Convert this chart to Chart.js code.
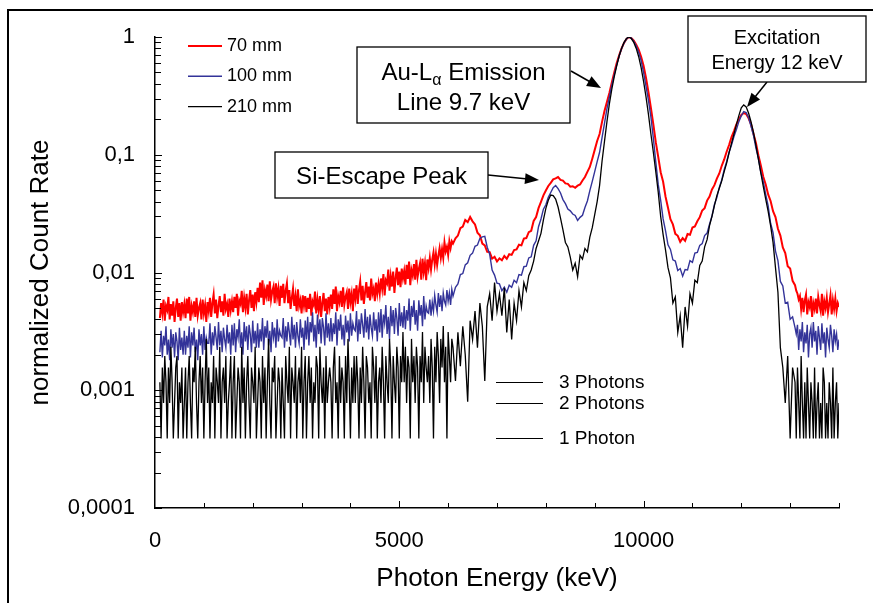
<!DOCTYPE html>
<html><head><meta charset="utf-8">
<script src="https://cdn.jsdelivr.net/npm/chart.js@4/dist/chart.umd.min.js"></script>
<style>html,body{margin:0;padding:0;background:#fff;}canvas{display:block;}</style>
</head><body>
<canvas id="c" width="873" height="603"></canvas>
<script>
// ---------- DATA ----------
const energies = [
100,125,150,175,200,225,250,275,300,325,350,375,400,425,450,475,500,525,550,575,
600,625,650,675,700,725,750,775,800,825,850,875,900,925,950,975,1000,1025,1050,1075,
1100,1125,1150,1175,1200,1225,1250,1275,1300,1325,1350,1375,1400,1425,1450,1475,1500,1525,1550,1575,
1600,1625,1650,1675,1700,1725,1750,1775,1800,1825,1850,1875,1900,1925,1950,1975,2000,2025,2050,2075,
2100,2125,2150,2175,2200,2225,2250,2275,2300,2325,2350,2375,2400,2425,2450,2475,2500,2525,2550,2575,
2600,2625,2650,2675,2700,2725,2750,2775,2800,2825,2850,2875,2900,2925,2950,2975,3000,3025,3050,3075,
3100,3125,3150,3175,3200,3225,3250,3275,3300,3325,3350,3375,3400,3425,3450,3475,3500,3525,3550,3575,
3600,3625,3650,3675,3700,3725,3750,3775,3800,3825,3850,3875,3900,3925,3950,3975,4000,4025,4050,4075,
4100,4125,4150,4175,4200,4225,4250,4275,4300,4325,4350,4375,4400,4425,4450,4475,4500,4525,4550,4575,
4600,4625,4650,4675,4700,4725,4750,4775,4800,4825,4850,4875,4900,4925,4950,4975,5000,5025,5050,5075,
5100,5125,5150,5175,5200,5225,5250,5275,5300,5325,5350,5375,5400,5425,5450,5475,5500,5525,5550,5575,
5600,5625,5650,5675,5700,5725,5750,5775,5800,5825,5850,5875,5900,5925,5950,5975,6000,6025,6050,6075,
6100,6150,6200,6250,6300,6350,6400,6450,6500,6550,6600,6650,6700,6750,6800,6850,6900,6950,7000,7050,
7100,7150,7200,7250,7300,7350,7400,7450,7500,7550,7600,7650,7700,7750,7800,7850,7900,7950,8000,8050,
8100,8150,8200,8250,8300,8350,8400,8450,8500,8550,8600,8650,8700,8750,8800,8850,8900,8950,9000,9050,
9100,9150,9200,9250,9300,9350,9400,9450,9500,9550,9600,9650,9700,9750,9800,9850,9900,9950,10000,10050,
10100,10150,10200,10250,10300,10350,10400,10450,10500,10550,10600,10650,10700,10750,10800,10850,10900,10950,11000,11050,
11100,11150,11200,11250,11300,11350,11400,11450,11500,11550,11600,11650,11700,11750,11800,11850,11900,11950,12000,12050,
12100,12150,12200,12250,12300,12350,12400,12450,12500,12550,12600,12650,12700,12750,12800,12850,12900,12950,13000,13050,
13100,13125,13150,13175,13200,13225,13250,13275,13300,13325,13350,13375,13400,13425,13450,13475,13500,13525,13550,13575,
13600,13625,13650,13675,13700,13725,13750,13775,13800,13825,13850,13875,13900,13925,13950,13975,14000
];

const rate70mm = [
0.0041,0.0055,0.0045,0.0059,0.0039,0.0052,0.0048,0.0062,0.0040,0.0054,0.0043,0.0057,0.0038,0.0050,0.0060,0.0042,0.0055,0.0039,0.0056,0.0046,
0.0054,0.0041,0.0060,0.0045,0.0062,0.0039,0.0052,0.0046,0.0057,0.0042,0.0061,0.0043,0.0050,0.0055,0.0040,0.0059,0.0045,0.0053,0.0038,0.0056,
0.0047,0.0061,0.0042,0.0055,0.0065,0.0045,0.0059,0.0041,0.0052,0.0063,0.0046,0.0057,0.0043,0.0066,0.0049,0.0054,0.0042,0.0060,0.0048,0.0057,
0.0046,0.0062,0.0050,0.0066,0.0043,0.0058,0.0054,0.0070,0.0046,0.0061,0.0050,0.0066,0.0044,0.0058,0.0071,0.0050,0.0065,0.0047,0.0068,0.0056,
0.0074,0.0056,0.0082,0.0061,0.0086,0.0053,0.0071,0.0063,0.0079,0.0057,0.0084,0.0059,0.0069,0.0076,0.0055,0.0081,0.0062,0.0073,0.0052,0.0077,
0.0061,0.0080,0.0055,0.0070,0.0081,0.0055,0.0071,0.0049,0.0061,0.0073,0.0052,0.0063,0.0047,0.0072,0.0052,0.0058,0.0045,0.0064,0.0052,0.0063,
0.0046,0.0061,0.0049,0.0066,0.0043,0.0057,0.0053,0.0069,0.0045,0.0059,0.0048,0.0063,0.0042,0.0055,0.0067,0.0047,0.0060,0.0044,0.0062,0.0051,
0.0065,0.0049,0.0072,0.0054,0.0076,0.0047,0.0063,0.0056,0.0070,0.0051,0.0075,0.0053,0.0062,0.0068,0.0049,0.0073,0.0056,0.0066,0.0047,0.0073,
0.0060,0.0078,0.0054,0.0071,0.0084,0.0058,0.0077,0.0054,0.0068,0.0083,0.0061,0.0076,0.0058,0.0089,0.0066,0.0073,0.0057,0.0082,0.0066,0.0080,
0.0066,0.0089,0.0073,0.0097,0.0064,0.0086,0.0081,0.0106,0.0070,0.0093,0.0076,0.0102,0.0067,0.0090,0.0110,0.0078,0.0102,0.0075,0.0108,0.0089,
0.0103,0.0079,0.0116,0.0088,0.0124,0.0078,0.0105,0.0094,0.0118,0.0087,0.0128,0.0092,0.0107,0.0120,0.0087,0.0131,0.0101,0.0120,0.0086,0.0129,
0.0109,0.0133,0.0106,0.0129,0.0148,0.0117,0.0144,0.0116,0.0139,0.0161,0.0133,0.0158,0.0133,0.0180,0.0151,0.0165,0.0141,0.0184,0.0161,0.0184,
0.0176,0.0195,0.0206,0.0238,0.0245,0.0279,0.0268,0.0296,0.0272,0.0256,0.0218,0.0207,0.0176,0.0170,0.0150,0.0149,0.0131,0.0136,0.0124,0.0132,
0.0127,0.0138,0.0131,0.0143,0.0141,0.0155,0.0157,0.0172,0.0170,0.0194,0.0196,0.0220,0.0226,0.0274,0.0296,0.0352,0.0398,0.0452,0.0497,0.0543,
0.0577,0.0618,0.0629,0.0647,0.0612,0.0604,0.0571,0.0566,0.0535,0.0540,0.0524,0.0546,0.0559,0.0604,0.0648,0.0716,0.0788,0.0925,0.110,0.131,
0.150,0.190,0.235,0.280,0.335,0.410,0.500,0.600,0.700,0.800,0.890,0.960,1.000,0.980,0.930,0.860,0.780,0.680,0.570,0.450,
0.340,0.250,0.181,0.128,0.096,0.071,0.059,0.044,0.0355,0.0284,0.0256,0.0213,0.0205,0.0182,0.0196,0.0186,0.0212,0.0209,0.0241,0.0246,
0.0272,0.0295,0.0336,0.0352,0.0408,0.0442,0.0507,0.0552,0.0627,0.0693,0.0806,0.0912,0.106,0.121,0.141,0.159,0.181,0.199,0.218,0.226,
0.222,0.204,0.181,0.150,0.126,0.099,0.081,0.065,0.056,0.046,0.0405,0.0332,0.0296,0.0235,0.0206,0.0163,0.0146,0.0113,0.0108,0.0085,
0.0078,0.0070,0.0066,0.0059,0.0063,0.0049,0.0061,0.0046,0.0058,0.0065,0.0044,0.0056,0.0051,0.0063,0.0042,0.0055,0.0049,0.0060,0.0045,0.0062,
0.0053,0.0047,0.0066,0.0043,0.0057,0.0050,0.0061,0.0046,0.0054,0.0064,0.0044,0.0058,0.0049,0.0060,0.0047,0.0055,0.0051
];

const rate100mm = [
0.0021,0.0032,0.0019,0.0029,0.0024,0.0035,0.0020,0.0027,0.0018,0.0033,0.0023,0.0030,0.0019,0.0031,0.0026,0.0018,0.0034,0.0022,0.0028,0.0020,
0.0032,0.0020,0.0029,0.0023,0.0035,0.0019,0.0031,0.0024,0.0034,0.0021,0.0027,0.0018,0.0033,0.0024,0.0030,0.0020,0.0035,0.0022,0.0028,0.0025,
0.0025,0.0037,0.0020,0.0031,0.0024,0.0035,0.0028,0.0022,0.0038,0.0024,0.0032,0.0021,0.0034,0.0027,0.0023,0.0036,0.0025,0.0031,0.0020,0.0036,
0.0024,0.0037,0.0021,0.0033,0.0028,0.0040,0.0023,0.0031,0.0020,0.0038,0.0026,0.0035,0.0022,0.0036,0.0030,0.0021,0.0039,0.0025,0.0032,0.0023,
0.0037,0.0023,0.0033,0.0026,0.0041,0.0022,0.0035,0.0028,0.0039,0.0024,0.0032,0.0021,0.0038,0.0028,0.0034,0.0023,0.0040,0.0026,0.0032,0.0029,
0.0028,0.0041,0.0023,0.0035,0.0026,0.0038,0.0031,0.0024,0.0042,0.0027,0.0036,0.0023,0.0038,0.0029,0.0025,0.0040,0.0028,0.0034,0.0022,0.0039,
0.0027,0.0042,0.0024,0.0038,0.0031,0.0046,0.0026,0.0036,0.0023,0.0044,0.0030,0.0040,0.0025,0.0041,0.0034,0.0024,0.0045,0.0028,0.0037,0.0026,
0.0041,0.0026,0.0037,0.0030,0.0046,0.0024,0.0040,0.0032,0.0044,0.0027,0.0036,0.0024,0.0043,0.0031,0.0039,0.0026,0.0045,0.0029,0.0037,0.0033,
0.0032,0.0047,0.0026,0.0040,0.0030,0.0045,0.0036,0.0028,0.0049,0.0031,0.0042,0.0027,0.0044,0.0034,0.0029,0.0046,0.0032,0.0040,0.0026,0.0046,
0.0031,0.0049,0.0028,0.0044,0.0037,0.0053,0.0030,0.0042,0.0027,0.0052,0.0035,0.0048,0.0030,0.0050,0.0041,0.0029,0.0055,0.0035,0.0046,0.0034,
0.0052,0.0033,0.0048,0.0039,0.0060,0.0032,0.0052,0.0042,0.0058,0.0036,0.0048,0.0032,0.0058,0.0043,0.0053,0.0035,0.0063,0.0040,0.0052,0.0046,
0.0045,0.0059,0.0043,0.0056,0.0047,0.0064,0.0053,0.0046,0.0067,0.0051,0.0064,0.0047,0.0067,0.0057,0.0053,0.0071,0.0057,0.0067,0.0053,0.0072,
0.0063,0.0075,0.0080,0.0096,0.0098,0.0116,0.0121,0.0140,0.0146,0.0167,0.0171,0.0195,0.0201,0.0203,0.0164,0.0143,0.0105,0.0095,0.0081,0.0080,
0.0070,0.0075,0.0068,0.0078,0.0075,0.0086,0.0082,0.0096,0.0095,0.0112,0.0113,0.0133,0.0136,0.0170,0.0186,0.0245,0.0285,0.0345,0.0376,0.0435,
0.0478,0.0525,0.0548,0.0515,0.0474,0.0416,0.0384,0.0346,0.0334,0.0314,0.0305,0.0277,0.0294,0.0306,0.0356,0.0405,0.0496,0.0594,0.0718,0.0875,
0.105,0.140,0.185,0.245,0.310,0.390,0.480,0.580,0.690,0.800,0.890,0.960,1.000,0.980,0.920,0.840,0.740,0.630,0.500,0.380,
0.290,0.210,0.138,0.087,0.056,0.041,0.0285,0.0226,0.0172,0.0157,0.0128,0.0125,0.0104,0.0108,0.0093,0.0106,0.0105,0.0126,0.0122,0.0146,
0.0148,0.0170,0.0176,0.0206,0.0216,0.0257,0.0302,0.0378,0.0432,0.0528,0.0612,0.0748,0.0872,0.105,0.121,0.143,0.164,0.191,0.214,0.232,
0.228,0.206,0.174,0.146,0.114,0.093,0.071,0.059,0.046,0.0368,0.0262,0.0218,0.0152,0.0126,0.0084,0.0077,0.0055,0.0056,0.0040,0.0042,
0.0034,0.0030,0.0036,0.0022,0.0033,0.0026,0.0038,0.0021,0.0031,0.0025,0.0036,0.0019,0.0030,0.0034,0.0023,0.0038,0.0026,0.0032,0.0020,0.0035,
0.0028,0.0022,0.0037,0.0025,0.0031,0.0019,0.0034,0.0027,0.0023,0.0036,0.0029,0.0021,0.0033,0.0026,0.0030,0.0022,0.0027
];

const rate210mm = [
0.00117,0.00039,0.00156,0.00078,0.00195,0.00117,0.00039,0.00156,0.00078,0.00234,0.00117,0.00039,0.00078,0.00156,0.00195,0.00039,0.00117,0.00078,0.00156,0.00039,
0.00078,0.00156,0.00039,0.00117,0.00195,0.00078,0.00039,0.00156,0.00117,0.00234,0.00078,0.00039,0.00117,0.00195,0.00078,0.00156,0.00039,0.00117,0.00273,0.00078,
0.00156,0.00039,0.00117,0.00078,0.00195,0.00039,0.00156,0.00117,0.00078,0.00234,0.00039,0.00117,0.00156,0.00078,0.00195,0.00039,0.00078,0.00117,0.00195,0.00039,
0.00117,0.00195,0.00039,0.00078,0.00156,0.00117,0.00039,0.00234,0.00078,0.00156,0.00039,0.00117,0.00195,0.00078,0.00039,0.00156,0.00117,0.00078,0.00234,0.00039,
0.00078,0.00156,0.00117,0.00039,0.00195,0.00078,0.00156,0.00039,0.00117,0.00273,0.00078,0.00039,0.00156,0.00117,0.00195,0.00039,0.00078,0.00156,0.00117,0.00039,
0.00156,0.00078,0.00039,0.00195,0.00117,0.00078,0.00234,0.00039,0.00156,0.00117,0.00078,0.00195,0.00039,0.00117,0.00156,0.00078,0.00234,0.00039,0.00117,0.00195,
0.00039,0.00117,0.00195,0.00078,0.00156,0.00039,0.00117,0.00078,0.00195,0.00156,0.00039,0.00234,0.00117,0.00078,0.00156,0.00039,0.00195,0.00078,0.00117,0.00156,
0.00117,0.00039,0.00156,0.00234,0.00078,0.00117,0.00039,0.00195,0.00078,0.00156,0.00117,0.00039,0.00195,0.00078,0.00273,0.00117,0.00039,0.00156,0.00078,0.00195,
0.00078,0.00195,0.00117,0.00039,0.00156,0.00078,0.00234,0.00117,0.00039,0.00195,0.00156,0.00078,0.00117,0.00039,0.00234,0.00156,0.00078,0.00195,0.00039,0.00117,
0.00156,0.00078,0.00234,0.00117,0.00039,0.00195,0.00117,0.00078,0.00273,0.00156,0.00039,0.00195,0.00117,0.00078,0.00234,0.00156,0.00039,0.00195,0.00117,0.00312,
0.00117,0.00234,0.00078,0.00195,0.00156,0.00039,0.00273,0.00117,0.00195,0.00078,0.00234,0.00156,0.00039,0.00195,0.00117,0.00312,0.00078,0.00234,0.00156,0.00117,
0.00195,0.00078,0.00273,0.00156,0.00039,0.00234,0.00117,0.00312,0.00195,0.00078,0.00273,0.00156,0.00351,0.00117,0.00234,0.00039,0.00312,0.00195,0.00117,0.00273,
0.0023,0.0012,0.0031,0.0016,0.0035,0.0020,0.0008,0.0039,0.0027,0.0047,0.0023,0.0055,0.0035,0.0012,0.0051,0.0066,0.0039,0.0082,0.0047,0.0066,
0.0043,0.0074,0.0031,0.0059,0.0027,0.0055,0.0039,0.0070,0.0051,0.0082,0.0070,0.0094,0.0105,0.0125,0.0160,0.0185,0.0215,0.0280,0.0350,0.0410,
0.0455,0.0450,0.0420,0.0360,0.0290,0.0230,0.0180,0.0165,0.0135,0.0105,0.0120,0.0092,0.0140,0.0130,0.0160,0.0150,0.0200,0.0240,0.0310,0.0400,
0.055,0.088,0.130,0.190,0.270,0.360,0.460,0.570,0.690,0.800,0.900,0.970,1.000,0.970,0.900,0.800,0.680,0.550,0.420,0.310,
0.220,0.150,0.105,0.072,0.048,0.030,0.021,0.0155,0.011,0.0090,0.0055,0.0062,0.0031,0.0043,0.0023,0.0051,0.0035,0.0066,0.0055,0.0086,
0.0082,0.0115,0.0125,0.0165,0.019,0.025,0.030,0.037,0.045,0.052,0.060,0.072,0.085,0.104,0.125,0.150,0.180,0.215,0.250,0.265,
0.255,0.225,0.190,0.155,0.120,0.092,0.070,0.054,0.042,0.033,0.025,0.018,0.011,0.0068,0.0023,0.00156,0.00078,0.00195,0.00039,0.00156,
0.00117,0.00039,0.00156,0.00078,0.00039,0.00195,0.00078,0.00039,0.00117,0.00039,0.00156,0.00078,0.00039,0.00117,0.00078,0.00039,0.00156,0.00039,0.00078,0.00117,
0.00039,0.00078,0.00039,0.00156,0.00117,0.00039,0.00078,0.00039,0.00117,0.00078,0.00039,0.00156,0.00039,0.00078,0.00117,0.00039,0.00078
];

const seriesNames = ['70 mm', '100 mm', '210 mm'];
const yTickValues = [0.0001, 0.001, 0.01, 0.1, 1];
const yTickLabels = ['0,0001', '0,001', '0,01', '0,1', '1'];
const xTickValues = [0, 5000, 10000];
const xTickLabels = ['0', '5000', '10000'];
const photonLabels = ['3 Photons', '2 Photons', '1 Photon'];
const photonLevels = [0.00117, 0.00078, 0.00039];

// ---------- STYLE ----------
const FONT = '"Liberation Sans", Arial, Helvetica, sans-serif';
const seriesColors = ['#ff0000', '#333399', '#000000'];
const seriesWidths = [2, 1.4, 1.3];
Chart.defaults.font.family = FONT;
Chart.defaults.color = '#000';

const toXY = vals => vals.map((v, i) => ({x: energies[i], y: v}));

function drawArrow(ctx, x0, y0, x1, y1) {
  const ang = Math.atan2(y1 - y0, x1 - x0);
  const L = 14, H = 5.5;
  ctx.beginPath();
  ctx.moveTo(x0, y0);
  ctx.lineTo(x1 - Math.cos(ang) * L * 0.8, y1 - Math.sin(ang) * L * 0.8);
  ctx.lineWidth = 1.5; ctx.strokeStyle = '#000'; ctx.stroke();
  ctx.beginPath();
  ctx.moveTo(x1, y1);
  ctx.lineTo(x1 - Math.cos(ang) * L - Math.sin(ang) * H, y1 - Math.sin(ang) * L + Math.cos(ang) * H);
  ctx.lineTo(x1 - Math.cos(ang) * L + Math.sin(ang) * H, y1 - Math.sin(ang) * L - Math.cos(ang) * H);
  ctx.closePath(); ctx.fillStyle = '#000'; ctx.fill();
}
function drawBox(ctx, x0, y0, x1, y1) {
  ctx.fillStyle = '#fff'; ctx.fillRect(x0, y0, x1 - x0, y1 - y0);
  ctx.lineWidth = 1.3; ctx.strokeStyle = '#000'; ctx.strokeRect(x0, y0, x1 - x0, y1 - y0);
}

const decor = {
  id: 'decor',
  afterDraw(chart) {
    const {ctx, chartArea: a, scales: {x, y}} = chart;
    ctx.save();
    // outer frame
    ctx.strokeStyle = '#000'; ctx.lineWidth = 2;
    ctx.beginPath(); ctx.moveTo(8, 603); ctx.lineTo(8, 10); ctx.lineTo(873, 10); ctx.stroke();
    // inward tick marks
    ctx.lineWidth = 1;
    for (let d = -4; d <= 0; d++) {
      for (let m = 1; m <= 9; m++) {
        const v = m * Math.pow(10, d);
        if (v > 1.000001) break;
        const py = Math.round(y.getPixelForValue(v)) + 0.5;
        ctx.beginPath(); ctx.moveTo(a.left, py); ctx.lineTo(a.left + (m === 1 ? 7 : 6), py); ctx.stroke();
      }
    }
    for (let e = 1000; e <= 14000; e += 1000) {
      const px = Math.round(x.getPixelForValue(e)) + 0.5;
      ctx.beginPath(); ctx.moveTo(px, a.bottom); ctx.lineTo(px, a.bottom - (e % 5000 === 0 ? 7 : 5)); ctx.stroke();
    }
    // series legend
    ctx.textBaseline = 'middle'; ctx.textAlign = 'left';
    ctx.font = '18px ' + FONT;
    seriesNames.forEach((n, i) => {
      const ly = 46 + i * 30.3;
      ctx.strokeStyle = seriesColors[i]; ctx.lineWidth = seriesWidths[i];
      ctx.beginPath(); ctx.moveTo(188, ly); ctx.lineTo(222, ly); ctx.stroke();
      ctx.fillStyle = '#000'; ctx.fillText(n, 227, ly);
    });
    // photon level legend
    ctx.font = '19px ' + FONT;
    photonLabels.forEach((n, i) => {
      const ly = Math.round(y.getPixelForValue(photonLevels[i])) + 0.5;
      ctx.strokeStyle = '#000'; ctx.lineWidth = 1;
      ctx.beginPath(); ctx.moveTo(496, ly); ctx.lineTo(543, ly); ctx.stroke();
      ctx.fillStyle = '#000'; ctx.fillText(n, 559, ly);
    });
    // annotation: Au-L alpha
    drawArrow(ctx, 571, 71, 601, 88);
    drawBox(ctx, 357, 47, 570, 123);
    ctx.fillStyle = '#000'; ctx.textBaseline = 'alphabetic'; ctx.textAlign = 'left';
    ctx.font = '24px ' + FONT; const w1 = ctx.measureText('Au-L').width; const w3 = ctx.measureText(' Emission').width;
    ctx.font = '16px ' + FONT; const w2 = ctx.measureText('\u03B1').width;
    let sx = 463.5 - (w1 + w2 + w3) / 2;
    ctx.font = '24px ' + FONT; ctx.fillText('Au-L', sx, 79.5);
    ctx.font = '16px ' + FONT; ctx.fillText('\u03B1', sx + w1, 85);
    ctx.font = '24px ' + FONT; ctx.fillText(' Emission', sx + w1 + w2, 79.5);
    ctx.textAlign = 'center';
    ctx.fillText('Line 9.7 keV', 463.5, 109.5);
    // annotation: Si escape
    drawArrow(ctx, 488, 175, 539, 180);
    drawBox(ctx, 275, 152, 488, 198);
    ctx.fillStyle = '#000'; ctx.font = '24px ' + FONT;
    ctx.fillText('Si-Escape Peak', 381.5, 184);
    // annotation: excitation
    drawArrow(ctx, 767, 82, 747, 107);
    drawBox(ctx, 688, 16, 866, 82);
    ctx.fillStyle = '#000'; ctx.font = '20px ' + FONT;
    ctx.fillText('Excitation', 777, 44);
    ctx.fillText('Energy 12 keV', 777, 68.5);
    ctx.restore();
  }
};

new Chart(document.getElementById('c'), {
  type: 'line',
  data: {
    datasets: [
      {label: seriesNames[0], data: toXY(rate70mm), borderColor: seriesColors[0], borderWidth: seriesWidths[0], order: 3},
      {label: seriesNames[1], data: toXY(rate100mm), borderColor: seriesColors[1], borderWidth: seriesWidths[1], order: 2},
      {label: seriesNames[2], data: toXY(rate210mm), borderColor: seriesColors[2], borderWidth: seriesWidths[2], order: 1}
    ]
  },
  options: {
    responsive: false, animation: false, devicePixelRatio: 1,
    elements: {point: {radius: 0, hoverRadius: 0}, line: {tension: 0, fill: false}},
    layout: {padding: {left: 0, top: 37, right: 34, bottom: 0}},
    plugins: {legend: {display: false}, tooltip: {enabled: false}},
    events: [],
    scales: {
      x: {
        type: 'linear', min: 0, max: 14000,
        afterBuildTicks: s => { s.ticks = xTickValues.map(v => ({value: v})); },
        afterFit: s => { s.height = 95; },
        ticks: {font: {size: 22}, padding: 20, maxRotation: 0, autoSkip: false, color: '#000',
                callback: (v, i) => xTickLabels[i]},
        grid: {display: false, drawTicks: false},
        border: {display: true, color: '#000', width: 1.5},
        title: {display: true, text: 'Photon Energy (keV)', color: '#000', font: {size: 26}, padding: {top: 0, bottom: 9}}
      },
      y: {
        type: 'logarithmic', min: 0.0001, max: 1,
        afterBuildTicks: s => { s.ticks = yTickValues.map(v => ({value: v})); },
        afterFit: s => { s.width = 155; },
        ticks: {font: {size: 22}, padding: 20, autoSkip: false, color: '#000',
                callback: (v, i) => yTickLabels[i]},
        grid: {display: false, drawTicks: false},
        border: {display: true, color: '#000', width: 1.5},
        title: {display: true, text: 'normalized Count Rate', color: '#000', font: {size: 26}, padding: {top: 25, bottom: 0}}
      }
    }
  },
  plugins: [decor]
});
</script>
</body></html>
